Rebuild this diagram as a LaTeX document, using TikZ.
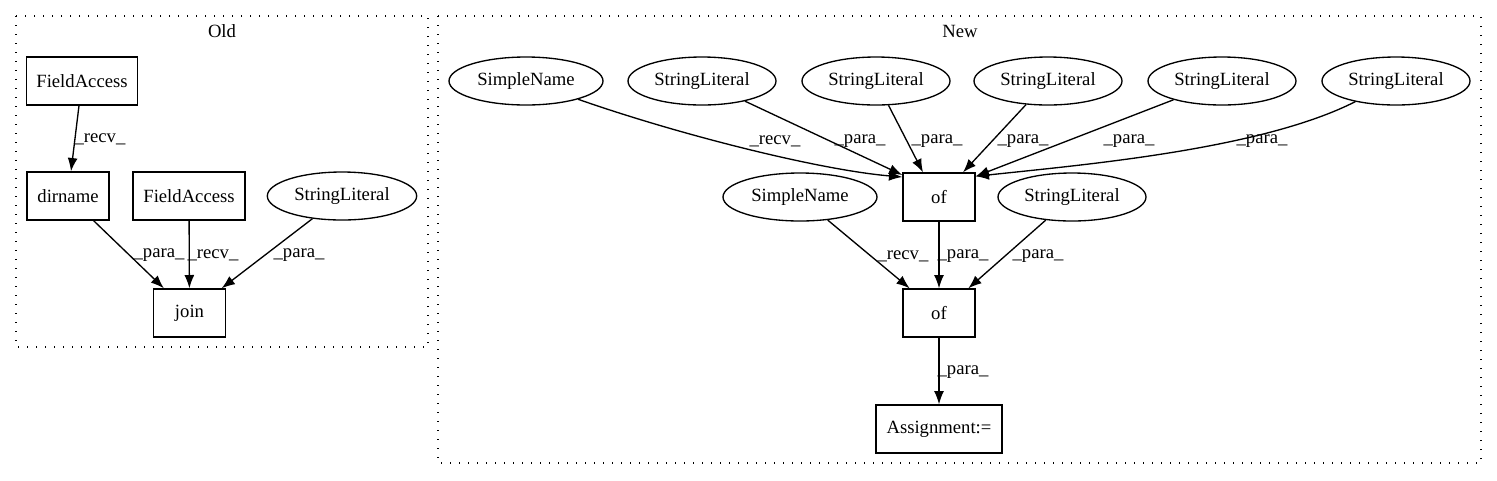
\documentclass[tikz,border=0pt]{standalone}
\usepackage{fontspec}
\setmainfont{Liberation Serif}
\usetikzlibrary{arrows.meta}
\usetikzlibrary{shapes.geometric}

\begin{document}
\begin{tikzpicture}[
	x=0.75pt, y=-0.75pt,
	font=\fontsize{14}{16}\selectfont,
	box/.style={ draw, line width=1pt, minimum height=36pt, inner sep=0pt },
	oval/.style={ draw, ellipse, line width=1pt, minimum height=36pt, inner sep=0pt },
	lbl/.style={ inner sep=0pt },
	cluster/.style={ line width=1pt, dash pattern=on 1pt off 5.75pt },
	conn/.style={ line width=1pt, -{Latex[length=10pt, width=7.5pt]} }
]

	\def\slw{111pt}
	\def\snw{115.5pt}

	\useasboundingbox (0, 0) rectangle (1497, 480);

	% Old
	\draw[ cluster ] (16, 16) rectangle (428, 347);
	\node[ lbl ] (told) at (222, 31) {Old};

	\node[ box, minimum width=83pt ] (fa1) at (82, 81) {FieldAccess};
	\node[ box, minimum width=61.5pt ] (dirnm) at (68, 196) {dirname};
	\node[ box, minimum width=84pt ] (fa2) at (189, 196) {FieldAccess};
	\node[ oval, minimum width=112pt ] (slold) at (342, 196) {StringLiteral};
	\node[ box, minimum width=54pt ] (join) at (189.5, 313) {join};

	\draw[ conn ] (fa1) -- (dirnm);
	\draw[ conn ] (dirnm) -- (join);
	\draw[ conn ] (fa2) -- (join);
	\draw[ conn ] (slold) -- (join);

	\node[ lbl ] (l1) at (100, 139) {\_recv\_};
	\node[ lbl ] (l2) at (159, 255) {\_para\_};
	\node[ lbl ] (l3) at (213, 255) {\_recv\_};
	\node[ lbl ] (l4) at (299, 255) {\_para\_};

	% New
	\draw[ cluster ] (438, 16) rectangle (1481, 463);
	\node[ lbl ] (tnew) at (960, 31) {New};

	\node[ oval, minimum width=\snw ] (sn1) at (526, 81) {SimpleName};
	\node[ oval, minimum width=\slw ] (sl1) at (702, 81) {StringLiteral};
	\node[ oval, minimum width=\slw ] (sl2) at (876, 81) {StringLiteral};
	\node[ oval, minimum width=\slw ] (sl3) at (1048, 81) {StringLiteral};
	\node[ oval, minimum width=\slw ] (sl4) at (1222, 81) {StringLiteral};
	\node[ oval, minimum width=\slw ] (sl5) at (1396, 81) {StringLiteral};

	\node[ box, minimum width=54pt ] (of1) at (939, 197) {of};
	\node[ oval, minimum width=\snw ] (sn2) at (800, 197) {SimpleName};
	\node[ oval, minimum width=\slw ] (sl6) at (1072, 197) {StringLiteral};
	\node[ box, minimum width=54pt ] (of2) at (939, 313) {of};
	\node[ box, minimum width=94.5pt ] (asgn) at (939, 429) {Assignment:=};

	\draw[ conn ] (sn1) .. controls (680, 135) and (820, 170) .. ([yshift=-3.5pt]of1.north west);
	\draw[ conn ] (sl1) -- ([yshift=-2pt]of1.north west);
	\draw[ conn ] (sl2) -- ([xshift=-12pt]of1.north);
	\draw[ conn ] (sl3) -- ([xshift=18pt]of1.north);
	\draw[ conn ] (sl4) -- ([yshift=-3pt]of1.north east);
	\draw[ conn ] (sl5) .. controls (1260, 150) and (1080, 165) .. ([yshift=-3pt]of1.north east);

	\draw[ conn ] (sn2) -- ([xshift=-22pt]of2.north);
	\draw[ conn ] (of1) -- (of2);
	\draw[ conn ] (sl6) -- ([xshift=22pt]of2.north);
	\draw[ conn ] (of2) -- (asgn);

	\node[ lbl ] (l5) at (775, 141) {\_recv\_};
	\node[ lbl ] (l6) at (860, 141) {\_para\_};
	\node[ lbl ] (l7) at (937, 141) {\_para\_};
	\node[ lbl ] (l8) at (1023, 141) {\_para\_};
	\node[ lbl ] (l9) at (1129, 141) {\_para\_};
	\node[ lbl ] (l10) at (1262, 141) {\_para\_};
	\node[ lbl ] (l11) at (903, 256) {\_recv\_};
	\node[ lbl ] (l12) at (963, 256) {\_para\_};
	\node[ lbl ] (l13) at (1038, 256) {\_para\_};
	\node[ lbl ] (l14) at (963, 372) {\_para\_};

\end{tikzpicture}
\end{document}
